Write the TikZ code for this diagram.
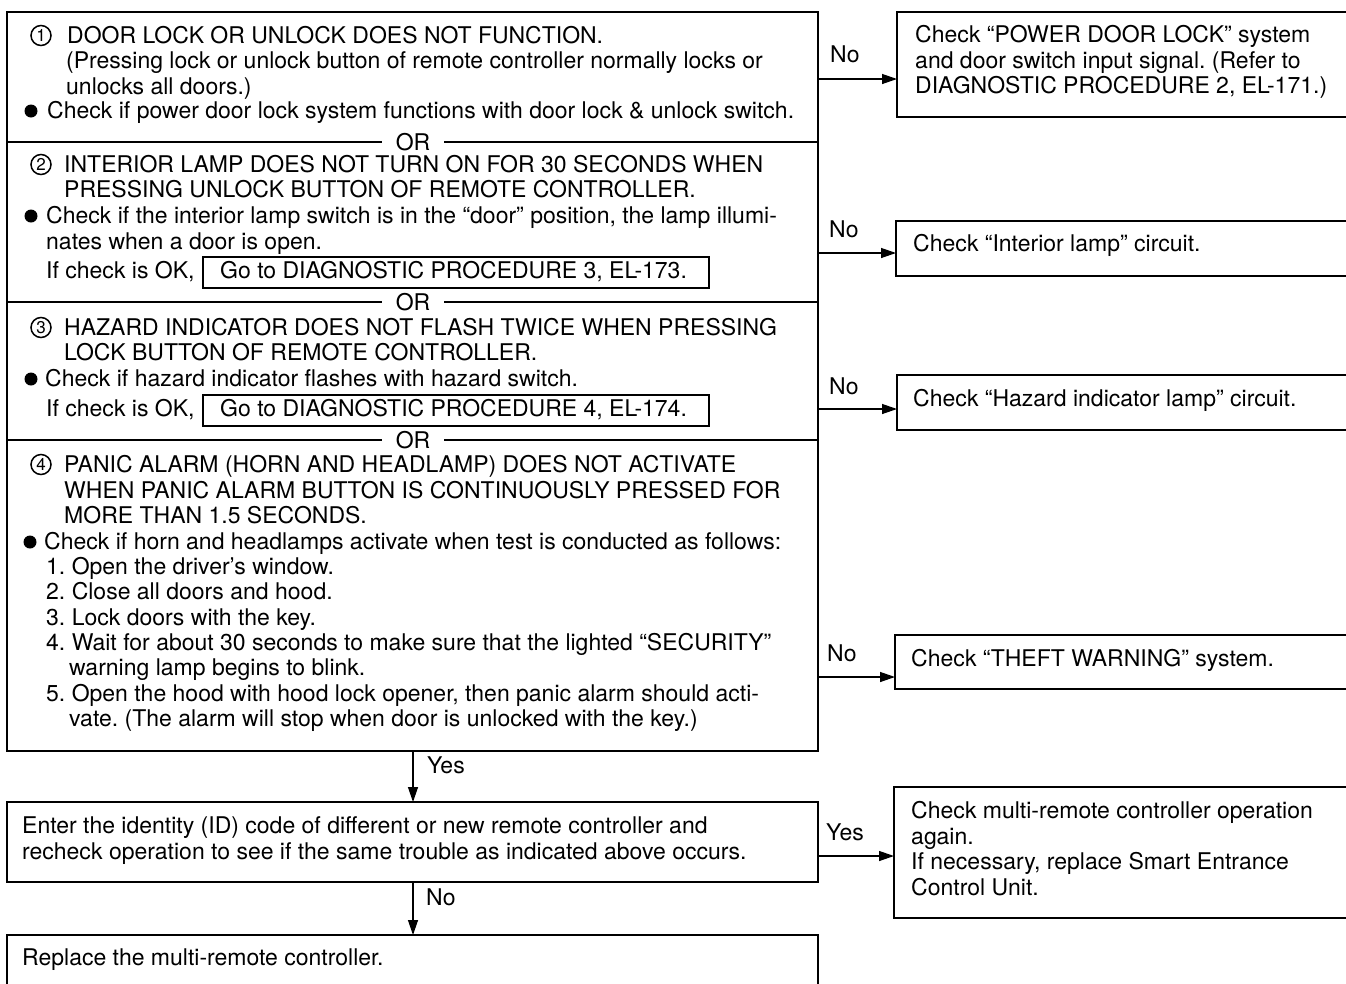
\documentclass[tikz,border=0pt]{standalone}
\usepackage{fontspec}
\setmainfont{TeX Gyre Heros}
\usetikzlibrary{arrows.meta,calc}
\newcommand\fsz{\fontsize{23}{25.5}\selectfont}
\frenchspacing
\begin{document}
\begin{tikzpicture}[x=1pt,y=-1pt,
  box/.style={draw, line width=1.8pt, inner sep=0pt, outer sep=0pt, anchor=north west},
  gobox/.style={draw, line width=1.3pt, inner sep=0pt, outer sep=0pt, anchor=north west, minimum width=506pt, minimum height=31pt},
  txt/.style={anchor=base west, inner sep=0pt, font=\fsz},
  ortxt/.style={inner xsep=14pt, inner ysep=0pt, font=\fsz},
  divline/.style={line width=1.3pt},
  circnum/.style={inner sep=0pt, font=\fontsize{17}{17}\selectfont},
  ring/.style={line width=1.5pt},
  bul/.style={circle, fill=black, minimum size=13pt, inner sep=0pt},
  arr/.style={line width=1.3pt, -{Triangle[length=15pt,width=10pt]}}]
\useasboundingbox (0,0) rectangle (1346,983);
\clip (0,0) rectangle (1346,983);
\fill[white] (0,0) rectangle (1346,983);

% ---------- boxes ----------
\node[box, minimum width=811pt, minimum height=739pt] (main) at (7,12) {};
\node[box, minimum width=811pt, minimum height=80pt] (mid) at (7,802) {};
\node[box, minimum width=811pt, minimum height=80pt] (last) at (7,935) {};
\node[box, minimum width=470pt, minimum height=105pt] (b1) at (897,12) {};
\node[box, minimum width=470pt, minimum height=55pt] (b2) at (896,221) {};
\node[box, minimum width=470pt, minimum height=55pt] (b3) at (897,375) {};
\node[box, minimum width=470pt, minimum height=54pt] (b4) at (895,635) {};
\node[box, minimum width=470pt, minimum height=131pt] (b5) at (894,787) {};
\node[gobox] (g3) at (203,257) {};
\node[gobox] (g4) at (203,395) {};

% ---------- OR dividers ----------
\node[ortxt] (or1) at (413,142) {OR};
\node[ortxt] (or2) at (413,302) {OR};
\node[ortxt] (or3) at (413,440) {OR};
\foreach \o in {or1,or2,or3}{
  \draw[divline] (main.west |- \o) -- (\o.west);
  \draw[divline] (\o.east) -- (main.east |- \o);
}

% ---------- circled numbers ----------
\node[circnum] (c1) at (41,35.5) {1};
\node[circnum] (c2) at (41,164.5) {2};
\node[circnum] (c3) at (41,327.5) {3};
\node[circnum] (c4) at (41,464.5) {4};
\foreach \c in {c1,c2,c3,c4}{
  \draw[ring] (\c.center) circle[radius=10pt];
}

% ---------- item 1 ----------
\node[txt] (t1) at (67,43.5) {DOOR LOCK OR UNLOCK DOES NOT FUNCTION.};
\node[txt] (t2) at (66,68.5) {(Pressing lock or unlock button of remote controller normally locks or};
\node[txt] (t3) at (66,94.5) {unlocks all doors.)};
\node[bul] (d1) at (31,111) {};
\node[txt] (t4) at (47,118.5) {Check if power door lock system functions with door lock \& unlock switch.};

% ---------- item 2 ----------
\node[txt] (t5) at (64,172.5) {INTERIOR LAMP DOES NOT TURN ON FOR 30 SECONDS WHEN};
\node[txt] (t6) at (64,197.5) {PRESSING UNLOCK BUTTON OF REMOTE CONTROLLER.};
\node[bul] (d2) at (31,216) {};
\node[txt] (t7) at (46,223.5) {Check if the interior lamp switch is in the “door” position, the lamp illumi-};
\node[txt] (t8) at (46,249.5) {nates when a door is open.};
\node[txt] (t9) at (46,278.5) {If check is OK,};
\node[txt] (t10) at (220,278.5) {Go to DIAGNOSTIC PROCEDURE 3, EL-173.};

% ---------- item 3 ----------
\node[txt] (t11) at (64,335.5) {HAZARD INDICATOR DOES NOT FLASH TWICE WHEN PRESSING};
\node[txt] (t12) at (64,360.5) {LOCK BUTTON OF REMOTE CONTROLLER.};
\node[bul] (d3) at (31,379) {};
\node[txt] (t13) at (45,386.5) {Check if hazard indicator flashes with hazard switch.};
\node[txt] (t14) at (46,416.5) {If check is OK,};
\node[txt] (t15) at (220,416.5) {Go to DIAGNOSTIC PROCEDURE 4, EL-174.};

% ---------- item 4 ----------
\node[txt] (t16) at (64,472.5) {PANIC ALARM (HORN AND HEADLAMP) DOES NOT ACTIVATE};
\node[txt] (t17) at (64,498.5) {WHEN PANIC ALARM BUTTON IS CONTINUOUSLY PRESSED FOR};
\node[txt] (t18) at (64,523.5) {MORE THAN 1.5 SECONDS.};
\node[bul] (d4) at (30,542) {};
\node[txt] (t19) at (44,549.5) {Check if horn and headlamps activate when test is conducted as follows:};
\node[txt] (t20) at (46,574.5) {1. Open the driver’s window.};
\node[txt] (t21) at (46,599.5) {2. Close all doors and hood.};
\node[txt] (t22) at (46,625.5) {3. Lock doors with the key.};
\node[txt] (t23) at (46,650.5) {4. Wait for about 30 seconds to make sure that the lighted “SECURITY”};
\node[txt] (t24) at (69,675.5) {warning lamp begins to blink.};
\node[txt] (t25) at (46,701.5) {5. Open the hood with hood lock opener, then panic alarm should acti-};
\node[txt] (t26) at (69,726.5) {vate. (The alarm will stop when door is unlocked with the key.)};

% ---------- lower boxes ----------
\node[txt] (t27) at (22,833.5) {Enter the identity (ID) code of different or new remote controller and};
\node[txt] (t28) at (22,859.5) {recheck operation to see if the same trouble as indicated above occurs.};
\node[txt] (t29) at (22,965.5) {Replace the multi-remote controller.};

% ---------- right boxes ----------
\node[txt] (r1) at (915,42.5) {Check “POWER DOOR LOCK” system};
\node[txt] (r2) at (915,68.5) {and door switch input signal. (Refer to};
\node[txt] (r3) at (915,93.5) {DIAGNOSTIC PROCEDURE 2, EL-171.)};
\node[txt] (r4) at (913,251.5) {Check “Interior lamp” circuit.};
\node[txt] (r5) at (913,406.5) {Check “Hazard indicator lamp” circuit.};
\node[txt] (r6) at (911,666.5) {Check “THEFT WARNING” system.};
\node[txt] (r7) at (911,818.5) {Check multi-remote controller operation};
\node[txt] (r8) at (911,844.5) {again.};
\node[txt] (r9) at (911,869.5) {If necessary, replace Smart Entrance};
\node[txt] (r10) at (911,895.5) {Control Unit.};

% ---------- connectors ----------
\coordinate (p1) at (818,79);
\coordinate (p2) at (818,253);
\coordinate (p3) at (818,409);
\coordinate (p4) at (818,677);
\coordinate (p5) at (818,856);
\coordinate (v) at (413,0);
\draw[arr] (main.east |- p1) -- (b1.west |- p1);
\draw[arr] (main.east |- p2) -- (b2.west |- p2);
\draw[arr] (main.east |- p3) -- (b3.west |- p3);
\draw[arr] (main.east |- p4) -- (b4.west |- p4);
\draw[arr] (mid.east |- p5) -- (b5.west |- p5);
\draw[arr] (main.south -| v) -- (mid.north -| v);
\draw[arr] (mid.south -| v) -- (last.north -| v);

% ---------- labels ----------
\node[txt] (n1) at (830,62.5) {No};
\node[txt] (n2) at (829,237.5) {No};
\node[txt] (n3) at (829,394.5) {No};
\node[txt] (n4) at (827,661.5) {No};
\node[txt] (y1) at (826,840.5) {Yes};
\node[txt] (y2) at (427,773.5) {Yes};
\node[txt] (n5) at (426,905.5) {No};
\end{tikzpicture}
\end{document}
